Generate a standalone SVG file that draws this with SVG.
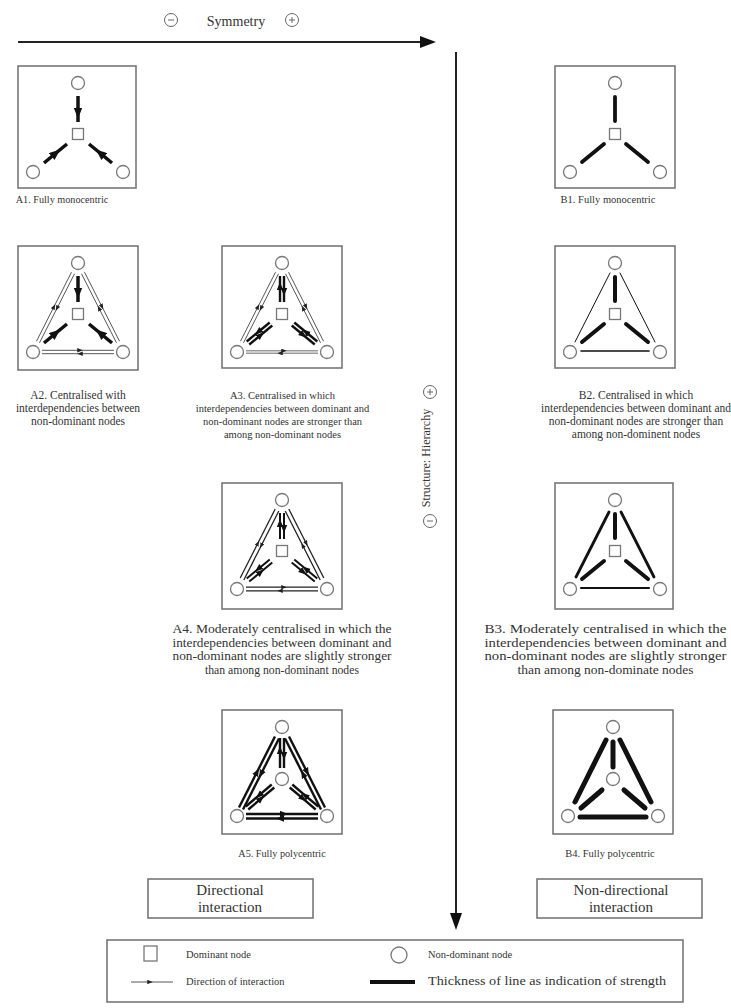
<svg xmlns="http://www.w3.org/2000/svg" width="731" height="1008" viewBox="0 0 731 1008">
<style>
.bg{fill:#fff}
.box{fill:none;stroke:#777;stroke-width:1.6}
.nd{fill:#fff;stroke:#777;stroke-width:1.3}
.lbl{font-family:"Liberation Serif",serif;fill:#333;text-anchor:middle}
.f10{font-size:10.2px}
.f105{font-size:10.5px}
.f115{font-size:11.5px}
.f12{font-size:12.3px}
.ax{font-family:"Liberation Serif",serif;font-size:12px;fill:#333;text-anchor:middle}
.lg{font-family:"Liberation Serif",serif;font-size:10.5px;fill:#333}
.bx{font-family:"Liberation Serif",serif;font-size:15px;fill:#333;text-anchor:middle}
.sym{fill:#fff;stroke:#666;stroke-width:1}
.k3{fill:none;stroke:#111;stroke-width:3.5}
.k22{fill:none;stroke:#111;stroke-width:2.4}
.k18{fill:none;stroke:#111;stroke-width:2}
.k13{fill:none;stroke:#222;stroke-width:1.3}
.t{fill:none;stroke:#444;stroke-width:0.9}
.tg{fill:none;stroke:#999;stroke-width:1.4}
.b{fill:none;stroke:#111;stroke-linecap:round}
.big{marker-mid:url(#ah)}
.sm{marker-mid:url(#as)}
.md{marker-mid:url(#am)}
</style>
<defs>
<marker id="ah" viewBox="0 0 10 8" refX="5" refY="4" markerWidth="11" markerHeight="9" markerUnits="userSpaceOnUse" orient="auto"><path d="M0,0 L10,4 L0,8 z" fill="#111"/></marker>
<marker id="am" viewBox="0 0 10 8" refX="5" refY="4" markerWidth="8" markerHeight="7" markerUnits="userSpaceOnUse" orient="auto"><path d="M0,0 L10,4 L0,8 z" fill="#111"/></marker>
<marker id="as" viewBox="0 0 10 8" refX="5" refY="4" markerWidth="5.5" markerHeight="4.5" markerUnits="userSpaceOnUse" orient="auto"><path d="M0,0 L10,4 L0,8 z" fill="#222"/></marker>
</defs>
<rect class="bg" x="0" y="0" width="731" height="1008"/>

<g id="axes">
<circle class="sym" cx="171" cy="20" r="6.5"/><line x1="168" y1="20" x2="174" y2="20" stroke="#666" stroke-width="1"/>
<text class="ax" x="236" y="26" style="font-size:14px">Symmetry</text>
<circle class="sym" cx="292" cy="20" r="6.5"/><line x1="289" y1="20" x2="295" y2="20" stroke="#666" stroke-width="1"/><line x1="292" y1="17" x2="292" y2="23" stroke="#666" stroke-width="1"/>
<line x1="18" y1="42" x2="422" y2="42" stroke="#222" stroke-width="2"/>
<polygon points="420,36 436,42 420,48" fill="#111"/>
<line x1="456" y1="52" x2="456" y2="915" stroke="#222" stroke-width="2"/>
<polygon points="450,913 456,930 462,913" fill="#111"/>
<text class="ax" x="430" y="458" transform="rotate(-90 430 458)">Structure: Hierarchy</text>
<circle class="sym" cx="430" cy="392" r="6.5"/><line x1="427" y1="392" x2="433" y2="392" stroke="#666" stroke-width="1"/><line x1="430" y1="389" x2="430" y2="395" stroke="#666" stroke-width="1"/>
<circle class="sym" cx="430" cy="521" r="6.5"/><line x1="427" y1="521" x2="433" y2="521" stroke="#666" stroke-width="1"/>
</g>

<g id="A1" transform="translate(18,66)">
<rect class="box" x="0" y="0" width="118" height="122"/>
<path class="k3 big" d="M60,30 L60,47 L60,56"/>
<path class="k3 big" d="M26,97 L38,87 L49,78"/>
<path class="k3 big" d="M94,97 L82,87 L71,78"/>
<circle class="nd" cx="60" cy="17" r="6.5"/><rect class="nd" x="54.5" y="62.5" width="11" height="11"/>
<circle class="nd" cx="15" cy="106" r="6.5"/><circle class="nd" cx="105" cy="106" r="6.5"/>
<text class="lbl f10" x="44" y="137">A1. Fully monocentric</text>
</g>

<g id="A2" transform="translate(18,246)">
<rect class="box" x="0" y="0" width="120" height="124"/>
<path class="t sm" d="M56.5,27.8 L39,62.3 L21.5,96.8"/>
<path class="t sm" d="M18.5,95.2 L36,60.7 L53.5,26.2"/>
<path class="t sm" d="M66.5,26.2 L84,60.7 L101.5,95.2"/>
<path class="t sm" d="M98.5,96.8 L81,62.3 L63.5,27.8"/>
<path class="t sm" d="M24,104.3 L62,104.3 L96,104.3"/>
<path class="t sm" d="M96,107.7 L62,107.7 L24,107.7"/>
<path class="k3 big" d="M60,30 L60,47 L60,56"/>
<path class="k3 big" d="M26,97 L38,87 L49,78"/>
<path class="k3 big" d="M94,97 L82,87 L71,78"/>
<circle class="nd" cx="60" cy="17" r="6.5"/><rect class="nd" x="54.5" y="62.5" width="11" height="11"/>
<circle class="nd" cx="15" cy="106" r="6.5"/><circle class="nd" cx="105" cy="106" r="6.5"/>
<text class="lbl f115" x="60" y="153">A2. Centralised with</text>
<text class="lbl f115" x="60" y="166">interdependencies between</text>
<text class="lbl f115" x="60" y="179">non-dominant nodes</text>
</g>

<g id="A3" transform="translate(222,246)">
<rect class="box" x="0" y="0" width="120" height="122"/>
<path class="t sm" d="M56.5,27.8 L39,62.3 L21.5,96.8"/>
<path class="t sm" d="M18.5,95.2 L36,60.7 L53.5,26.2"/>
<path class="t sm" d="M66.5,26.2 L84,60.7 L101.5,95.2"/>
<path class="t sm" d="M98.5,96.8 L81,62.3 L63.5,27.8"/>
<path class="tg sm" d="M24,104.8 L62,104.8 L96,104.8"/>
<path class="tg sm" d="M96,107.2 L58,107.2 L24,107.2"/>
<path class="k22 md" d="M58,56 L58,40 L58,30"/>
<path class="k22 md" d="M62,30 L62,46 L62,56"/>
<path class="k22 md" d="M27.28,98.54 L38.78,89.04 L50.28,79.54"/>
<path class="k22 md" d="M47.72,76.46 L36.22,85.96 L24.72,95.46"/>
<path class="k22 md" d="M95.28,95.46 L83.78,85.96 L72.28,76.46"/>
<path class="k22 md" d="M69.72,79.54 L81.22,89.04 L92.72,98.54"/>
<circle class="nd" cx="60" cy="17" r="6.5"/><rect class="nd" x="54.5" y="62.5" width="11" height="11"/>
<circle class="nd" cx="15" cy="106" r="6.5"/><circle class="nd" cx="105" cy="106" r="6.5"/>
<text class="lbl f105" x="60.5" y="153">A3. Centralised in which</text>
<text class="lbl f105" x="60.5" y="166">interdependencies between dominant and</text>
<text class="lbl f105" x="60.5" y="179">non-dominant nodes are stronger than</text>
<text class="lbl f105" x="60.5" y="192">among non-dominant nodes</text>
</g>

<g id="B1" transform="translate(555,66)">
<rect class="box" x="0" y="0" width="120" height="122"/>
<line class="b" stroke-width="3.8" x1="60" y1="31" x2="60" y2="55"/>
<line class="b" stroke-width="3.8" x1="27" y1="96" x2="49" y2="78"/>
<line class="b" stroke-width="3.8" x1="93" y1="96" x2="71" y2="78"/>
<circle class="nd" cx="60" cy="17" r="6.5"/><rect class="nd" x="54.5" y="62.5" width="11" height="11"/>
<circle class="nd" cx="15" cy="106" r="6.5"/><circle class="nd" cx="105" cy="106" r="6.5"/>
<text class="lbl f105" x="53" y="137">B1. Fully monocentric</text>
</g>

<g id="B2" transform="translate(555,246)">
<rect class="box" x="0" y="0" width="120" height="122"/>
<line class="b" stroke="#666" stroke-width="1" x1="55" y1="27" x2="20" y2="96"/>
<line class="b" stroke="#666" stroke-width="1" x1="65" y1="27" x2="100" y2="96"/>
<line class="b" stroke="#777" stroke-width="1.6" x1="26" y1="105" x2="94" y2="105"/>
<line class="b" stroke-width="4" x1="60" y1="31" x2="60" y2="55"/>
<line class="b" stroke-width="4" x1="27" y1="96" x2="49" y2="78"/>
<line class="b" stroke-width="4" x1="93" y1="96" x2="71" y2="78"/>
<circle class="nd" cx="60" cy="17" r="6.5"/><rect class="nd" x="54.5" y="62.5" width="11" height="11"/>
<circle class="nd" cx="15" cy="106" r="6.5"/><circle class="nd" cx="105" cy="106" r="6.5"/>
<text class="lbl f115" x="81" y="153">B2. Centralised in which</text>
<text class="lbl f115" x="81" y="166">interdependencies between dominant and</text>
<text class="lbl f115" x="81" y="179">non-dominant nodes are stronger than</text>
<text class="lbl f115" x="81" y="192">among non-dominent nodes</text>
</g>

<g id="A4" transform="translate(222,483)">
<rect class="box" x="0" y="0" width="120" height="126"/>
<path class="k13 sm" d="M56.8,28 L39.3,62.5 L21.8,97"/>
<path class="k13 sm" d="M18.2,95 L35.7,60.5 L53.2,26"/>
<path class="k13 sm" d="M66.8,26 L84.3,60.5 L101.8,95"/>
<path class="k13 sm" d="M98.2,97 L80.7,62.5 L63.2,28"/>
<path class="k13 sm" d="M24,104.2 L62,104.2 L96,104.2"/>
<path class="k13 sm" d="M96,107.8 L58,107.8 L24,107.8"/>
<path class="k18 md" d="M58,56 L58,40 L58,30"/>
<path class="k18 md" d="M62,30 L62,46 L62,56"/>
<path class="k18 md" d="M27.28,98.54 L38.78,89.04 L50.28,79.54"/>
<path class="k18 md" d="M47.72,76.46 L36.22,85.96 L24.72,95.46"/>
<path class="k18 md" d="M95.28,95.46 L83.78,85.96 L72.28,76.46"/>
<path class="k18 md" d="M69.72,79.54 L81.22,89.04 L92.72,98.54"/>
<circle class="nd" cx="60" cy="17" r="6.5"/><rect class="nd" x="54.5" y="62.5" width="11" height="11"/>
<circle class="nd" cx="15" cy="106" r="6.5"/><circle class="nd" cx="105" cy="106" r="6.5"/>
<text class="lbl f12" x="60" y="150" textLength="219" lengthAdjust="spacingAndGlyphs">A4. Moderately centralised in which the</text>
<text class="lbl f12" x="60" y="163.5" textLength="219" lengthAdjust="spacingAndGlyphs">interdependencies between dominant and</text>
<text class="lbl f12" x="60" y="177" textLength="219" lengthAdjust="spacingAndGlyphs">non-dominant nodes are slightly stronger</text>
<text class="lbl f12" x="60" y="190.5" textLength="154" lengthAdjust="spacingAndGlyphs">than among non-dominant nodes</text>
</g>

<g id="B3" transform="translate(555,483)">
<rect class="box" x="0" y="0" width="118" height="126"/>
<line class="b" stroke-width="2.8" x1="54" y1="29" x2="21" y2="94"/>
<line class="b" stroke-width="2.8" x1="66" y1="29" x2="99" y2="94"/>
<line class="b" stroke-width="2.2" x1="26" y1="105" x2="94" y2="105"/>
<line class="b" stroke-width="4" x1="60" y1="31" x2="60" y2="55"/>
<line class="b" stroke-width="4" x1="27" y1="96" x2="49" y2="78"/>
<line class="b" stroke-width="4" x1="93" y1="96" x2="71" y2="78"/>
<circle class="nd" cx="60" cy="17" r="6.5"/><rect class="nd" x="54.5" y="62.5" width="11" height="11"/>
<circle class="nd" cx="15" cy="106" r="6.5"/><circle class="nd" cx="105" cy="106" r="6.5"/>
<text class="lbl f12" x="50.5" y="150" textLength="242" lengthAdjust="spacingAndGlyphs">B3. Moderately centralised in which the</text>
<text class="lbl f12" x="50.5" y="163.5" textLength="242" lengthAdjust="spacingAndGlyphs">interdependencies between dominant and</text>
<text class="lbl f12" x="50.5" y="177" textLength="242" lengthAdjust="spacingAndGlyphs">non-dominant nodes are slightly stronger</text>
<text class="lbl f12" x="50.5" y="190.5" textLength="176" lengthAdjust="spacingAndGlyphs">than among non-dominate nodes</text>
</g>

<g id="A5" transform="translate(222,710)">
<rect class="box" x="0" y="0" width="120" height="124"/>
<path class="k22 md" d="M57,28.5 L39,64 L21,99.5"/>
<path class="k22 md" d="M17,97.5 L35,62 L53,26.5"/>
<path class="k22 md" d="M67,26.5 L85,62 L103,97.5"/>
<path class="k22 md" d="M99,99.5 L81,64 L63,28.5"/>
<path class="k22 md" d="M24,104 L62,104 L96,104"/>
<path class="k22 md" d="M96,108.5 L58,108.5 L24,108.5"/>
<path class="k22 md" d="M58,58 L58,40 L58,28"/>
<path class="k22 md" d="M62,28 L62,46 L62,58"/>
<path class="k22 md" d="M26.3,99.5 L39,88.7 L52.3,77.5"/>
<path class="k22 md" d="M49.7,74.5 L37,85.3 L23.7,96.5"/>
<path class="k22 md" d="M96.3,96.5 L83,85.3 L70.3,74.5"/>
<path class="k22 md" d="M67.7,77.5 L81,88.7 L93.7,99.5"/>
<circle class="nd" cx="60" cy="17" r="6.5"/><circle class="nd" cx="60" cy="69" r="6.5"/>
<circle class="nd" cx="15" cy="106" r="6.5"/><circle class="nd" cx="105" cy="106" r="6.5"/>
<text class="lbl f10" x="60" y="147">A5. Fully polycentric</text>
</g>

<g id="B4" transform="translate(553,710)">
<rect class="box" x="0" y="0" width="120" height="124"/>
<line class="b" stroke-width="5" x1="53" y1="30" x2="22" y2="92"/>
<line class="b" stroke-width="5" x1="67" y1="30" x2="98" y2="92"/>
<line class="b" stroke-width="5" x1="27" y1="107" x2="93" y2="107"/>
<line class="b" stroke-width="5" x1="60" y1="32" x2="60" y2="57"/>
<line class="b" stroke-width="5" x1="28" y1="98" x2="49" y2="80"/>
<line class="b" stroke-width="5" x1="92" y1="98" x2="71" y2="80"/>
<circle class="nd" cx="60" cy="17" r="6.5"/><circle class="nd" cx="60" cy="69" r="6.5"/>
<circle class="nd" cx="15" cy="106" r="6.5"/><circle class="nd" cx="105" cy="106" r="6.5"/>
<text class="lbl f105" x="57" y="147">B4. Fully polycentric</text>
</g>

<g id="directional">
<rect class="box" x="148" y="879" width="165" height="39"/>
<text class="bx" x="230" y="895">Directional</text>
<text class="bx" x="230" y="912">interaction</text>
</g>
<g id="nondirectional">
<rect class="box" x="537" y="879" width="165" height="39"/>
<text class="bx" x="621" y="895">Non-directional</text>
<text class="bx" x="621" y="912">interaction</text>
</g>

<g id="legend">
<rect class="box" x="107" y="940" width="576" height="62"/>
<rect class="nd" x="144" y="946" width="13" height="15"/>
<text class="lg" x="186" y="958">Dominant node</text>
<circle class="nd" cx="399" cy="955" r="8"/>
<text class="lg" x="428" y="958">Non-dominant node</text>
<path class="t sm" d="M131,982 L150,982 L173,982"/>
<text class="lg" x="186" y="985">Direction of interaction</text>
<line x1="370" y1="982" x2="415" y2="982" stroke="#111" stroke-width="4"/>
<text class="lg" x="428" y="985" style="font-size:11.5px" textLength="238" lengthAdjust="spacingAndGlyphs">Thickness of line as indication of strength</text>
</g>
</svg>
